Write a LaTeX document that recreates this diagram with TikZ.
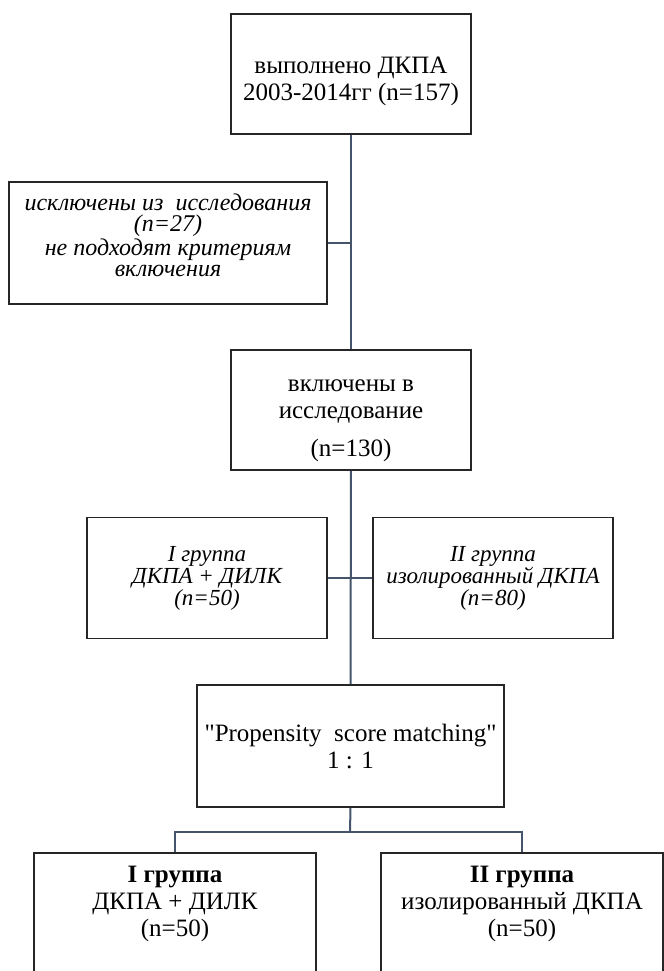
\documentclass[tikz,border=0pt]{standalone}
\usepackage{fontspec}
\setmainfont{Liberation Serif}[Ligatures=TeXOff]
\usetikzlibrary{positioning}
\definecolor{linkgray}{RGB}{68,84,106}

\begin{document}
\begin{tikzpicture}[x=0.5pt,y=-0.5pt]
 \tikzset{box/.style={draw=black!85,line width=0.8pt,align=center,inner sep=2pt,
   minimum width=120pt,minimum height=60pt,font=\fontsize{12.5}{13.5}\selectfont},
   ibox/.style={box,font=\fontsize{11.5}{11}\selectfont\itshape},
   link/.style={draw=linkgray,line width=1pt}}
 \useasboundingbox (0,0) rectangle (664,971);
 \clip (0,0) rectangle (664,971);

 \node[box] (A) at (351,74) {выполнено ДКПА\\2003-2014гг (n=157)\\[-18.5pt]};
 \node[ibox,font=\fontsize{12}{10.5}\selectfont\itshape,minimum width=159pt,minimum height=61pt] (X) at (168,243)
   {исключены из\ \ исследования\\(n=27)\\не подходят критериям\\включения\\[-2.5pt]};
 \node[box] (B) at (351,410) {включены в\\исследование\\[5.5pt](n=130)\\[-21.5pt]};
 \node[ibox,minimum height=60.5pt] (G1) at (207,578) {I группа\\ДКПА + ДИЛК\\(n=50)};
 \node[ibox,minimum height=60.5pt] (G2) at (493,578) {II группа\\изолированный ДКПА\\(n=80)};
 \node[box,minimum width=153.5pt,minimum height=61pt] (P) at (350.5,746)
   {"Propensity\ \ score matching"\\1 : 1};
 \node[box,minimum width=141pt] (R1) at (175,913) {\textbf{I группа}\\ДКПА + ДИЛК\\(n=50)\\[-1.5pt]};
 \node[box,minimum width=141pt] (R2) at (522,913) {\textbf{II группа}\\изолированный ДКПА\\(n=50)\\[-1.5pt]};
 \coordinate (fork) at (350,832);

 \draw[link] (A) -- (B);
 \draw[link] (X.east) -- (X.east -| A.south);
 \draw[link] (B) -- (P);
 \draw[link] (G1.east) -- (G2.west);
 \draw[link] (P.south) -- (fork);
 \draw[link] (R1.north) |- (fork) -| (R2.north);
\end{tikzpicture}
\end{document}
